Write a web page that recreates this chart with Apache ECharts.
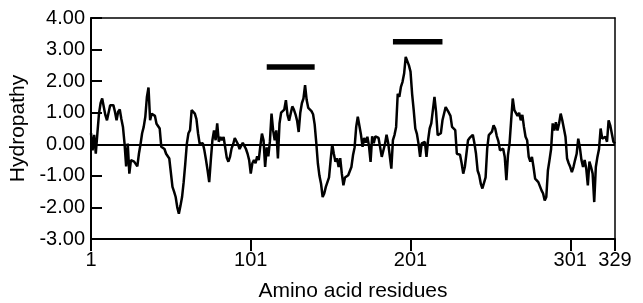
<!DOCTYPE html>
<html>
<head>
<meta charset="utf-8">
<script src="https://cdn.jsdelivr.net/npm/echarts@6/dist/echarts.min.js"></script>
<style>
  html, body { margin: 0; padding: 0; background: #fff; }
  #f_hydro { width: 643px; height: 303px; }
</style>
</head>
<body>
<div id="f_hydro"></div>
<script>
// residue position and hydropathy value
let residues = [
    1, 2, 3, 4, 5, 6, 7, 8, 9, 10, 11, 12, 13, 14, 15, 16, 17, 18, 19, 20,
    21, 22, 23, 24, 25, 26, 27, 28, 30, 31, 32, 33, 34, 35, 36, 37, 38, 39, 40, 41,
    42, 43, 44, 45, 46, 47, 48, 49, 50, 51, 52, 53, 54, 55, 56, 57, 58, 59, 60, 61,
    62, 63, 64, 65, 66, 67, 68, 69, 70, 71, 72, 73, 74, 75, 76, 77, 78, 79, 80, 81,
    82, 83, 84, 85, 86, 87, 88, 89, 90, 91, 92, 93, 94, 95, 96, 97, 98, 99, 100, 101,
    102, 103, 104, 105, 106, 107, 108, 109, 110, 111, 112, 113, 114, 115, 116, 117, 118, 119, 120, 121,
    122, 123, 124, 125, 126, 127, 128, 129, 130, 131, 132, 133, 134, 135, 136, 137, 138, 139, 140, 141,
    142, 143, 144, 145, 146, 147, 148, 149, 150, 151, 152, 153, 154, 155, 156, 157, 158, 159, 160, 161,
    162, 163, 164, 165, 166, 167, 168, 170, 171, 172, 173, 174, 175, 176, 177, 178, 179, 180, 181, 182,
    183, 184, 185, 186, 187, 188, 189, 190, 191, 192, 193, 194, 195, 196, 197, 198, 199, 200, 201, 202,
    203, 204, 205, 206, 207, 208, 209, 210, 211, 212, 213, 214, 215, 216, 217, 218, 219, 220, 221, 223,
    224, 225, 226, 227, 228, 229, 230, 231, 232, 233, 234, 235, 236, 237, 238, 239, 240, 241, 242, 243,
    244, 245, 246, 247, 248, 249, 250, 251, 252, 253, 254, 255, 256, 257, 258, 259, 260, 261, 262, 263,
    264, 265, 266, 267, 268, 269, 270, 271, 272, 273, 274, 275, 276, 277, 278, 279, 280, 281, 282, 283,
    284, 285, 286, 287, 288, 289, 290, 291, 292, 293, 294, 295, 296, 297, 298, 299, 300, 301, 302, 303,
    304, 305, 306, 307, 308, 309, 310, 311, 312, 313, 314, 315, 316, 317, 318, 319, 320, 321, 322, 323,
    324, 325, 326, 327, 328, 329
];
let hydropathy = [
    0.35, -0.19, 0.30, -0.30, 0.35, 0.97, 1.30, 1.45, 1.45, 0.92, 0.76, 0.74, 1.24, 1.24, 1.24, 1.03, 0.76, 1.03, 1.10, 0.80,
    0.55, 0.02, -0.70, 0.02, -0.93, -0.50, -0.55, -0.55, -0.70, -0.30, 0.00, 0.35, 0.55, 0.87, 1.50, 1.80, 0.76, 0.97, 0.97, 0.90,
    0.65, 0.62, 0.50, -0.08, -0.13, -0.15, -0.30, -0.32, -0.45, -0.50, -1.35, -1.50, -1.67, -2.00, -2.20, -1.95, -1.67, -1.20, -0.62, 0.02,
    0.35, 0.45, 1.08, 1.08, 0.97, 0.80, 0.35, 0.02, 0.05, 0.03, -0.20, -0.50, -0.83, -1.20, -0.50, 0.13, 0.44, 0.13, 0.66, 0.08,
    0.23, 0.13, 0.23, -0.10, -0.43, -0.55, -0.40, -0.13, 0.00, 0.20, 0.26, 0.00, -0.15, -0.12, 0.05, -0.05, -0.15, -0.30, -0.50, -0.93,
    -0.60, -0.50, -0.60, -0.38, -0.50, -0.05, 0.34, 0.13, -0.72, -0.10, -0.38, 0.10, 0.97, 0.44, 0.13, 0.44, -0.45, 0.66, 1.00, 0.95,
    1.10, 1.40, 0.93, 0.75, 0.75, 1.20, 1.10, 0.95, 0.75, 0.39, 1.00, 1.30, 1.45, 1.87, 1.40, 1.15, 1.10, 1.05, 0.95, 0.63,
    0.05, -0.60, -1.00, -1.25, -1.67, -1.56, -1.35, -1.20, -1.05, -0.50, 0.00, -0.30, -0.55, -0.44, -0.72, -0.44, -0.93, -1.30, -1.05, -1.10,
    -0.98, -1.04, -0.72, -0.35, -0.10, 0.55, 0.87, 0.30, -0.08, 0.20, 0.05, 0.24, -0.05, -0.56, 0.25, 0.03, 0.25, 0.30, 0.20, 0.25,
    -0.40, -0.40, 0.00, 0.30, 0.05, 0.00, -0.77, 0.13, 0.30, 0.55, 1.60, 1.50, 1.82, 1.98, 2.24, 2.77, 2.72, 2.50, 2.30, 1.60,
    1.08, 0.50, 0.33, 0.02, -0.40, 0.03, -0.03, 0.08, -0.40, 0.13, 0.50, 0.66, 0.70, 1.50, 1.03, 0.29, 0.32, 0.35, 0.76, 1.18,
    1.13, 1.00, 0.90, 0.55, 0.50, 0.45, -0.30, -0.35, -0.33, -0.60, -0.93, -0.72, -0.30, 0.13, 0.20, 0.24, 0.30, 0.03, -0.30, -0.83,
    -0.98, -1.25, -1.40, -1.46, -1.05, -0.14, 0.29, 0.35, 0.40, 0.60, 0.50, 0.26, 0.10, -0.19, -0.24, -0.14, -0.40, -1.14, -0.35, 0.03,
    0.76, 1.45, 1.08, 1.03, 0.90, 1.00, 0.76, 0.93, 0.55, 0.24, 0.13, -0.40, -0.55, -0.40, -0.72, -1.09, -1.14, -1.20, -1.25, -1.46,
    -1.56, -1.78, -1.67, -0.83, -0.50, -0.15, 0.66, 0.44, 0.70, 0.44, 0.66, 0.97, 0.76, 0.50, 0.24, -0.45, -0.60, -0.72, -0.88, -0.72,
    -0.50, -0.30, 0.18, -0.10, -0.50, -0.72, -0.50, -0.77, -1.30, -0.55, -0.72, -0.93, -1.83, -0.72, -0.40, -0.15, 0.50, 0.18, 0.24, 0.24,
    0.08, 0.76, 0.60, 0.34, 0.08, 0.02
];

// the two thick bars above the curve: [start residue, end residue], height
let bar1Range = [111, 141];
let bar1Level = 2.45;
let bar2Range = [190, 221];
let bar2Level = 3.25;

// axis ticks
let xTicks = [1, 101, 201, 301, 329];
let yMin = -3, yMax = 4, yStep = 1;

let myChart = echarts.init(document.getElementById('f_hydro'));

let lineData = [];
for (let i = 0; i < residues.length; i++) {
    lineData.push([residues[i], hydropathy[i]]);
}

let font = 'Liberation Sans, Arial, sans-serif';

let option = {
    animation: false,
    // fixed plot box, no auto-shrinking for labels
    grid: { left: 91, right: 28, top: 18, bottom: 64, outerBoundsMode: 'none', containLabel: false },
    xAxis: [
        {
            type: 'value',
            min: 1,
            max: 329,
            name: 'Amino acid residues',
            nameLocation: 'middle',
            nameGap: 42,
            nameTextStyle: { color: '#000', fontSize: 21, fontFamily: font },
            axisLine: { onZero: false, lineStyle: { color: '#000', width: 2 } },
            axisTick: { customValues: xTicks, length: 12, lineStyle: { color: '#000', width: 2 } },
            axisLabel: { customValues: xTicks, color: '#000', fontSize: 20, fontFamily: font, margin: 11 },
            splitLine: { show: false }
        },
        {
            type: 'value',
            position: 'top',
            min: 1,
            max: 329,
            axisLine: { show: true, onZero: false, lineStyle: { color: '#000', width: 1.5 } },
            axisTick: { show: false },
            axisLabel: { show: false },
            splitLine: { show: false }
        }
    ],
    yAxis: [
        {
            type: 'value',
            min: yMin,
            max: yMax,
            interval: yStep,
            name: 'Hydropathy',
            nameLocation: 'middle',
            nameGap: 62,
            nameTextStyle: { color: '#000', fontSize: 21, fontFamily: font },
            axisLine: { show: true, onZero: false, lineStyle: { color: '#000', width: 2 } },
            axisTick: { show: true, inside: true, length: 11, lineStyle: { color: '#000', width: 2 } },
            axisLabel: {
                color: '#000', fontSize: 20, fontFamily: font, margin: 6,
                formatter: function (v) { return v.toFixed(2); }
            },
            splitLine: { show: false }
        },
        {
            type: 'value',
            position: 'right',
            min: yMin,
            max: yMax,
            interval: yStep,
            axisLine: { show: true, onZero: false, lineStyle: { color: '#000', width: 1.5 } },
            axisTick: { show: false },
            axisLabel: { show: false },
            splitLine: { show: false }
        }
    ],
    series: [
        {
            name: 'Hydropathy',
            type: 'line',
            data: lineData,
            showSymbol: false,
            lineStyle: { color: '#000', width: 2.5 },
            markLine: {
                silent: true,
                symbol: 'none',
                label: { show: false },
                lineStyle: { color: '#000', width: 2, type: 'solid' },
                data: [{ yAxis: 0 }]
            }
        },
        {
            name: 'bar1',
            type: 'line',
            data: [[bar1Range[0], bar1Level], [bar1Range[1], bar1Level]],
            showSymbol: false,
            lineStyle: { color: '#000', width: 5.5 }
        },
        {
            name: 'bar2',
            type: 'line',
            data: [[bar2Range[0], bar2Level], [bar2Range[1], bar2Level]],
            showSymbol: false,
            lineStyle: { color: '#000', width: 5.5 }
        }
    ]
};

myChart.setOption(option, true);
</script>
</body>
</html>
